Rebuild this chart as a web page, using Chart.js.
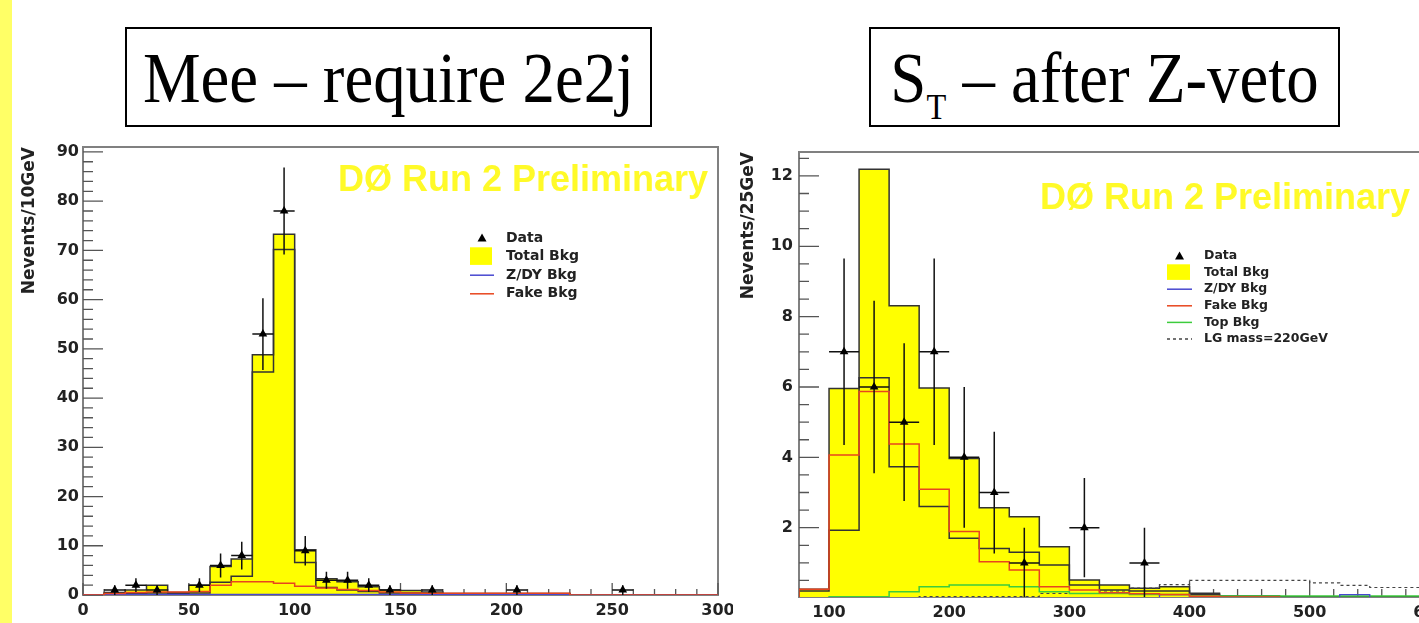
<!DOCTYPE html>
<html>
<head>
<meta charset="utf-8">
<script src="https://cdn.jsdelivr.net/npm/chart.js@4.4.1/dist/chart.umd.min.js"></script>
<style>
html,body{margin:0;padding:0;background:#fff;width:1419px;height:623px;overflow:hidden}
#stripe{position:absolute;left:0;top:0;width:12px;height:623px;background:#ffff66;z-index:5}
.ttl{position:absolute;top:27px;height:96px;border:2px solid #000;background:#fff}
.ttl span{position:absolute;left:-40px;right:-40px;top:13px;text-align:center;white-space:nowrap;transform:scaleX(0.9);
  font-family:"Liberation Serif","Times New Roman",serif;font-size:72px;line-height:1;color:#000}
.ttl sub{font-size:36px;vertical-align:-17px;line-height:0}
.plot{position:absolute;top:140px;overflow:hidden}
</style>
</head>
<body>
<div id="stripe"></div>
<div class="ttl" style="left:125px;width:523px"><span>Mee – require 2e2j</span></div>
<div class="ttl" style="left:869px;width:467px"><span>S<sub>T</sub> – after Z-veto</span></div>
<div class="plot" style="left:0;width:733px;height:483px"><canvas id="mee" width="733" height="483"></canvas></div>
<div class="plot" style="left:740px;width:830px;height:483px"><canvas id="st" width="830" height="483"></canvas></div>

<script>
// ---- Mee, 10 GeV bins ----
const meeEdges=[0,10,20,30,40,50,60,70,80,90,100,110,120,130,140,150,160,170,180,190,200,210,220,230,240,250,260,270,280,290,300];
const meeTotHi=[0,0.5,1.0,2.0,0.5,2.0,5.8,7.3,48.8,73.3,9.2,3.3,2.7,1.7,1.0,0.9,0.6,0.3,0.3,0.3,0.3,0.3,0.3,0,0,0,0,0,0,0];
const meeTotLo=[0,0.1,0.3,0.4,0.3,0.4,2.6,3.8,45.3,70.2,6.6,1.5,1.0,0.7,0.4,0.4,0.3,0.2,0.2,0.2,0.2,0.2,0.2,0,0,0,0,0,0,0];
const meeFake=[0,0.3,0.5,0.6,0.6,0.7,2.0,2.7,2.7,2.4,1.8,1.4,1.1,0.9,0.6,0.4,0.35,0.35,0.35,0.35,0.35,0.35,0.35,0,0,0,0,0,0,0];
const meeZdy=[0,0.1,0.1,0.1,0.1,0.1,0.1,0.1,0.1,0.1,0.1,0.1,0.1,0.1,0.1,0.1,0.1,0.1,0.1,0.1,0.1,0.1,0.1,0,0,0,0,0,0,0];
const meeDataX=[15,25,35,55,65,75,85,95,105,115,125,135,145,165,205,255];
const meeDataY=[1,2,1,2,6,8,53,78,9,3,3,2,1,1,1,1];
const meeDataErr=[1,1.41,1,1.41,2.45,2.83,7.28,8.83,3,1.73,1.73,1.41,1,1,1,1];
const meeXTicks=[0,50,100,150,200,250,300];
const meeYTicks=[0,10,20,30,40,50,60,70,80,90];
const meeLegend=['Data','Total Bkg','Z/DY Bkg','Fake Bkg'];

// ---- ST, 25 GeV bins ----
const stEdges=[75,100,125,150,175,200,225,250,275,300,325,350,375,400,425,450,475,500,525,550,575,600,625,650,675,700];
const stTotHi=[0.25,5.96,12.19,8.31,5.97,3.97,2.57,2.31,1.46,0.51,0.37,0.28,0.32,0.14,0.06,0.06,0.04,0.04,0.04,0.04,0.04,0.04,0.04,0.04,0.04];
const stTotLo=[0.2,1.93,6.26,3.73,2.6,1.7,1.41,1.3,0.94,0.37,0.23,0.2,0.2,0.1,0.04,0.04,0.04,0.04,0.04,0.04,0.04,0.04,0.04,0.04,0.04];
const stFake=[0.25,4.07,5.87,4.38,3.09,1.89,1.03,0.8,0.32,0.23,0.15,0.12,0.1,0.05,0.03,0.03,0,0,0,0,0,0,0,0,0];
const stZdy=[0,0,0,0,0,0,0,0,0,0,0,0,0.1,0,0,0,0,0,0.1,0,0,0,0,0,0];
const stTop=[0,0.04,0.04,0.18,0.32,0.37,0.37,0.32,0.18,0.13,0.13,0.1,0.1,0.06,0.06,0.06,0.06,0.06,0.06,0.06,0.06,0.06,0.06,0.06,0.06];
const stLq=[0,0,0,0,0.04,0.04,0.04,0.04,0.13,0.13,0.2,0.28,0.38,0.5,0.5,0.5,0.5,0.43,0.36,0.3,0.3,0.25,0.22,0.18,0.15];
const stDataX=[112.5,137.5,162.5,187.5,212.5,237.5,262.5,312.5,362.5];
const stDataY=[7,6,5,7,4,3,1,2,1];
const stDataErr=[2.65,2.45,2.24,2.65,2,1.73,1,1.41,1];
const stXTicks=[100,200,300,400,500,600,700];
const stYTicks=[2,4,6,8,10,12];
const stLegend=['Data','Total Bkg','Z/DY Bkg','Fake Bkg','Top Bkg','LG mass=220GeV'];

const FONT='"DejaVu Sans", sans-serif';
const YELLOW='#ffff00', OUTLINE='#333', RED='#e8461e', BLUE='#4848d0', GREEN='#3ccc3c';

// histogram outline closed down to zero at both ends
function outline(edges,vals){
  const p=[{x:edges[0],y:0}];
  vals.forEach((v,i)=>p.push({x:edges[i],y:v}));
  p.push({x:edges[edges.length-1],y:vals[vals.length-1]},{x:edges[edges.length-1],y:0});
  return p;
}
// open step line (lower edge of the error band)
function steps(edges,vals){
  const p=vals.map((v,i)=>({x:edges[i],y:v}));
  p.push({x:edges[edges.length-1],y:vals[vals.length-1]});
  return p;
}
function histDs(label,data,color,order,extra){
  return Object.assign({label,data,borderColor:color,borderWidth:1.5,stepped:true,pointRadius:0,fill:false,order},extra||{});
}
function dataDs(xs,ys,errs,halfW){
  return {label:'Data',data:xs.map((x,i)=>({x,y:ys[i]})),showLine:false,pointStyle:'triangle',pointRadius:5,
    pointBackgroundColor:'#000',pointBorderColor:'#000',pointBorderWidth:0,errY:errs,halfW,order:0};
}

// frame + inward ROOT-style ticks
const rootFrame={
  id:'rootFrame',
  beforeDatasetsDraw(chart,args,o){
    const {ctx,chartArea:a,scales:{x,y}}=chart;
    ctx.save();
    ctx.strokeStyle='#808080';ctx.lineWidth=2;
    ctx.strokeRect(a.left,a.top,a.right-a.left,a.bottom-a.top);
    ctx.strokeStyle='#555';ctx.lineWidth=1.3;ctx.beginPath();
    const run=(sc,minor,major,len,vert)=>{
      for(let k=Math.ceil(sc.min/minor-1e-9);k*minor<=sc.max+1e-9;k++){
        const v=k*minor,big=Math.abs(v/major-Math.round(v/major))<1e-6,l=big?len:len/2;
        const p=sc.getPixelForValue(v);
        if(vert){ctx.moveTo(a.left,p);ctx.lineTo(a.left+l,p);}
        else{ctx.moveTo(p,a.bottom);ctx.lineTo(p,a.bottom-l);}
      }
    };
    run(y,o.yMinor,o.yMajor,20,true);
    run(x,o.xMinor,o.xMajor,o.xLen,false);
    ctx.stroke();ctx.restore();
  }
};

// vertical sqrt(N) bars and bin-width bars under the markers
const errBars={
  id:'errBars',
  beforeDatasetDraw(chart,args){
    const ds=chart.data.datasets[args.index];
    if(!ds.errY)return;
    const {ctx,chartArea:a,scales:{x,y}}=chart;
    ctx.save();
    ctx.beginPath();ctx.rect(a.left,a.top,a.right-a.left,a.bottom-a.top);ctx.clip();
    ctx.strokeStyle='#111';ctx.lineWidth=1.5;ctx.beginPath();
    ds.data.forEach((pt,i)=>{
      const px=x.getPixelForValue(pt.x),py=y.getPixelForValue(pt.y);
      ctx.moveTo(px,y.getPixelForValue(pt.y+ds.errY[i]));ctx.lineTo(px,y.getPixelForValue(pt.y-ds.errY[i]));
      ctx.moveTo(x.getPixelForValue(pt.x-ds.halfW),py);ctx.lineTo(x.getPixelForValue(pt.x+ds.halfW),py);
    });
    ctx.stroke();ctx.restore();
  }
};

// in-frame legend and the experiment stamp
const rootLegend={
  id:'rootLegend',
  afterDraw(chart,args,o){
    const {ctx,chartArea:a}=chart;
    ctx.save();
    ctx.font=`bold ${o.size}px ${FONT}`;ctx.textBaseline='middle';ctx.fillStyle='#222';
    o.labels.forEach((lab,i)=>{
      const ds=chart.data.datasets.find(d=>d.label===lab);
      const cy=a.top+o.top+i*o.row,x0=a.left+o.left,x1=x0+o.symW;
      if(ds.errY){
        ctx.beginPath();ctx.moveTo((x0+x1)/2,cy-4.5);ctx.lineTo((x0+x1)/2+4.5,cy+3.5);ctx.lineTo((x0+x1)/2-4.5,cy+3.5);ctx.closePath();
        ctx.fillStyle='#000';ctx.fill();
      }else if(ds.fill){
        ctx.fillStyle=ds.backgroundColor;ctx.fillRect(x0,cy-o.row/2,o.symW-2,o.row-1);
      }else{
        ctx.strokeStyle=ds.borderColor;ctx.lineWidth=1.5;ctx.setLineDash(ds.borderDash||[]);
        ctx.beginPath();ctx.moveTo(x0,cy);ctx.lineTo(x1,cy);ctx.stroke();ctx.setLineDash([]);
      }
      ctx.fillStyle='#222';ctx.fillText(lab,a.left+o.textX,cy);
    });
    ctx.font='bold 36px "Liberation Sans", Arial, sans-serif';ctx.fillStyle='#fffa28';ctx.textBaseline='alphabetic';
    ctx.fillText('DØ Run 2 Preliminary',a.left+o.stampX,a.top+o.stampY);
    ctx.restore();
  }
};

// fixed axis sizes; no extra room for edge labels
function pinScale(s,size){
  if(s.isHorizontal())s.height=size;else s.width=size;
  s.paddingTop=s.paddingBottom=s.paddingLeft=s.paddingRight=0;
}

function makeChart(id,cfg){
  const tickFont={family:FONT,size:16,weight:'bold'};
  return new Chart(document.getElementById(id),{
    type:'line',
    data:{datasets:cfg.datasets},
    plugins:[rootFrame,errBars,rootLegend],
    options:{
      responsive:false,animation:false,events:[],
      layout:{autoPadding:false,padding:cfg.pad},
      plugins:{legend:{display:false},tooltip:{enabled:false},rootFrame:cfg.frame,rootLegend:cfg.legend},
      scales:{
        x:{type:'linear',min:cfg.xMin,max:cfg.xMax,
          afterBuildTicks:s=>{s.ticks=cfg.xTicks.map(v=>({value:v}));},
          afterFit:s=>pinScale(s,cfg.xH),
          grid:{display:false,drawTicks:false},border:{display:false},
          ticks:{autoSkip:false,maxRotation:0,padding:6,color:'#222',font:tickFont}},
        y:{type:'linear',min:cfg.yMin,max:cfg.yMax,
          afterBuildTicks:s=>{s.ticks=cfg.yTicks.map(v=>({value:v}));},
          afterFit:s=>pinScale(s,cfg.yW),
          grid:{display:false,drawTicks:false},border:{display:false},
          ticks:{autoSkip:false,padding:cfg.yPad,color:'#222',font:tickFont},
          title:{display:true,text:cfg.yTitle,align:'end',color:'#222',
            font:{family:FONT,size:17,weight:'bold',lineHeight:1},padding:{top:cfg.titlePad,bottom:0}}}
      }
    }
  });
}

makeChart('mee',{
  datasets:[
    histDs('Total Bkg',outline(meeEdges,meeTotHi),OUTLINE,6,{fill:'origin',backgroundColor:YELLOW}),
    histDs('Total Bkg band',steps(meeEdges,meeTotLo),OUTLINE,5),
    histDs('Z/DY Bkg',outline(meeEdges,meeZdy),BLUE,4,{borderWidth:1.3}),
    histDs('Fake Bkg',outline(meeEdges,meeFake),RED,3),
    dataDs(meeDataX,meeDataY,meeDataErr,5)
  ],
  pad:{left:0,right:15,top:7,bottom:0},
  xMin:0,xMax:300,yMin:0,yMax:91,xTicks:meeXTicks,yTicks:meeYTicks,
  xH:28,yW:83,yPad:4,titlePad:21,yTitle:'Nevents/10GeV',
  frame:{yMinor:2,yMajor:10,xMinor:10,xMajor:50,xLen:12},
  legend:{labels:meeLegend,left:387,symW:24,textX:423,top:91,row:18.6,size:14,stampX:255,stampY:43.5}
});

makeChart('st',{
  datasets:[
    histDs('Total Bkg',outline(stEdges,stTotHi),OUTLINE,7,{fill:'origin',backgroundColor:YELLOW}),
    histDs('Total Bkg band',steps(stEdges,stTotLo),OUTLINE,6),
    histDs('LG mass=220GeV',outline(stEdges,stLq),'#444',5,{borderWidth:1.2,borderDash:[3,3]}),
    histDs('Top Bkg',outline(stEdges,stTop),GREEN,4),
    histDs('Z/DY Bkg',outline(stEdges,stZdy),BLUE,3,{borderWidth:1.3}),
    histDs('Fake Bkg',outline(stEdges,stFake),RED,2),
    dataDs(stDataX,stDataY,stDataErr,12.5)
  ],
  pad:{left:0,right:20,top:12,bottom:0},
  xMin:75,xMax:700,yMin:0.03,yMax:12.68,xTicks:stXTicks,yTicks:stYTicks,
  xH:26,yW:59,yPad:6,titlePad:0,yTitle:'Nevents/25GeV',
  frame:{yMinor:0.5,yMajor:2,xMinor:20,xMajor:100,xLen:16},
  legend:{labels:stLegend,left:368,symW:25,textX:405,top:104,row:16.6,size:12.5,stampX:241,stampY:56.5}
});
</script>
</body>
</html>
